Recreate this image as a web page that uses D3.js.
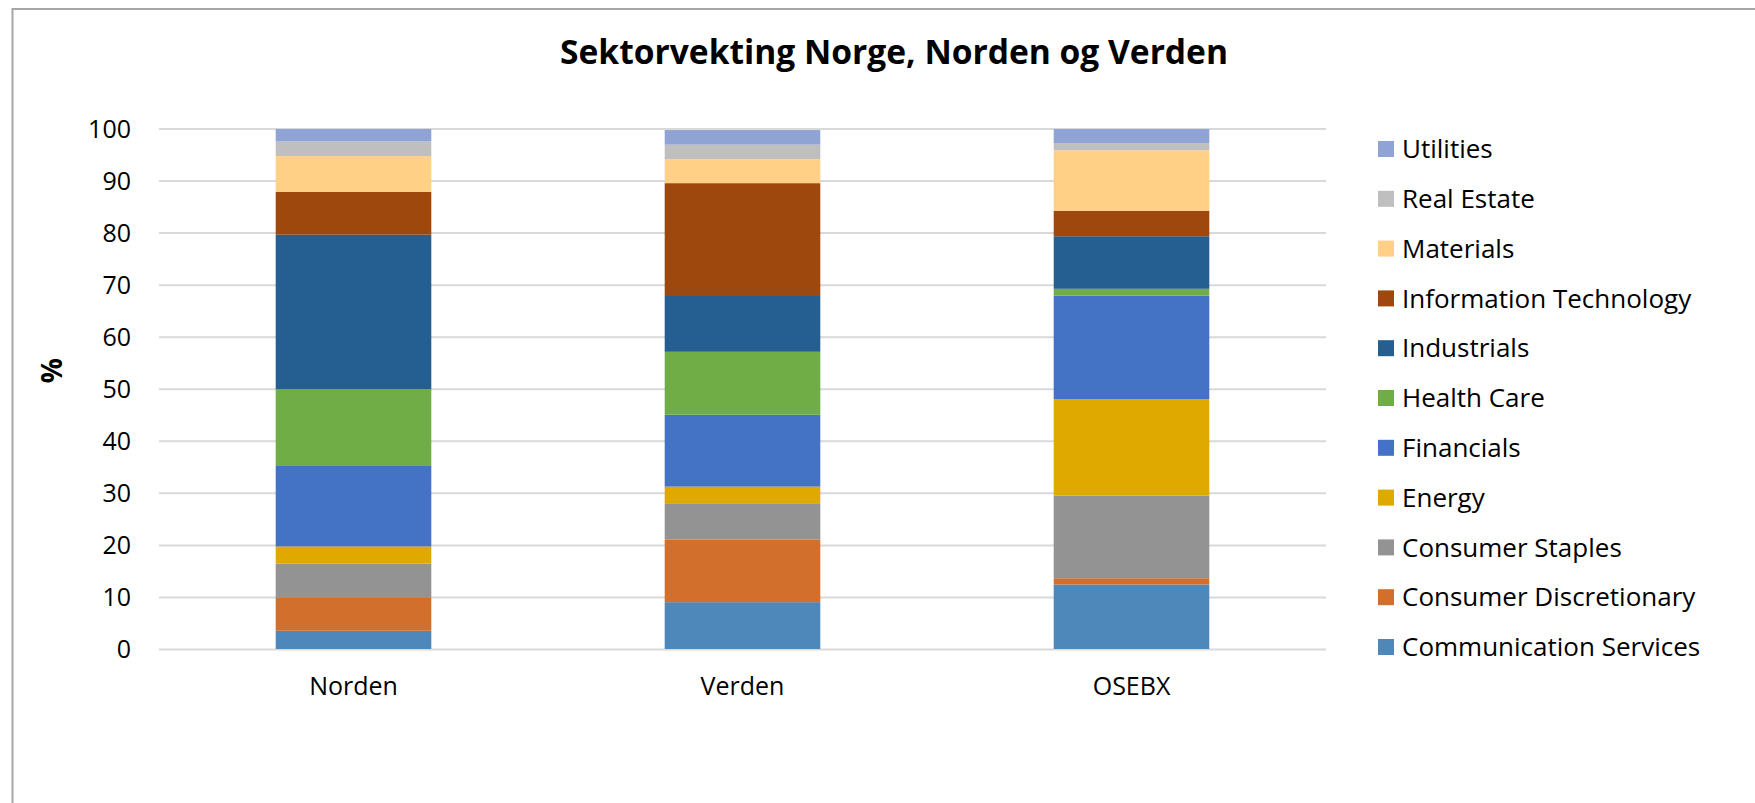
<!DOCTYPE html>
<html>
<head>
<meta charset="utf-8">
<script src="https://cdn.jsdelivr.net/npm/d3@7"></script>
<style>
    body { margin: 0; background: #fff; }
    svg { display: block; font-family: "Open Sans", sans-serif; }
    .chart-title { font-weight: bold; font-size: 34px; fill: #000; }
    .axis text { font-family: "Open Sans", sans-serif; font-size: 25px; fill: #000; }
    .legend text { font-size: 26px; fill: #000; }
</style>
</head>
<body>
<div id="chart"></div>
<script>
// categories and sectors (bottom of stack first)
var categories = ['Norden', 'Verden', 'OSEBX'];
var sectors = ['Communication Services', 'Consumer Discretionary', 'Consumer Staples', 'Energy',
    'Financials', 'Health Care', 'Industrials', 'Information Technology', 'Materials',
    'Real Estate', 'Utilities'];

// weights in %, one value per category
var communicationServices = [3.5, 9.0, 12.4];
var consumerDiscretionary = [6.3, 12.0, 1.2];
var consumerStaples = [6.6, 7.0, 15.9];
var energy = [3.3, 3.2, 18.5];
var financials = [15.6, 13.8, 19.9];
var healthCare = [14.6, 12.1, 1.3];
var industrials = [29.7, 10.9, 10.1];
var informationTechnology = [8.2, 21.5, 4.9];
var materials = [6.9, 4.6, 11.6];
var realEstate = [2.8, 2.8, 1.4];
var utilities = [2.4, 2.8, 2.7];

var yTicks = [0, 10, 20, 30, 40, 50, 60, 70, 80, 90, 100];

var colors = ['#4e88bb', '#d36f2c', '#939393', '#e0a900', '#4472c4', '#70ad47',
    '#255e91', '#9e480e', '#ffd085', '#bfbfbf', '#8fa3d5'];

var seriesValues = [communicationServices, consumerDiscretionary, consumerStaples, energy,
    financials, healthCare, industrials, informationTechnology, materials, realEstate, utilities];

var rows = categories.map(function (c, i) {
    var r = { key: c };
    sectors.forEach(function (s, j) { r[s] = seriesValues[j][i]; });
    return r;
});

var width = 1755,
    height = 803,
    margin = { left: 159, right: 429, top: 128.5, bottom: 154 };
var chartWidth = width - margin.left - margin.right;
var chartHeight = height - margin.top - margin.bottom;

var svg = d3.select('#chart').append('svg')
    .attr('width', width)
    .attr('height', height);

// chart frame
svg.append('rect')
    .attr('x', 12.5).attr('y', 9)
    .attr('width', width + 20).attr('height', height + 20)
    .attr('fill', 'none')
    .attr('stroke', '#a6a6a6')
    .attr('stroke-width', 2);

svg.append('text')
    .attr('class', 'chart-title')
    .attr('x', 894).attr('y', 64)
    .attr('text-anchor', 'middle')
    .attr('textLength', 668)
    .attr('lengthAdjust', 'spacingAndGlyphs')
    .text('Sektorvekting Norge, Norden og Verden');

var xScale = d3.scaleBand().domain(categories).range([0, chartWidth])
    .paddingInner(0.6).paddingOuter(0.3);
var yScale = d3.scaleLinear().domain([0, 100]).range([chartHeight, 0]);
var zScale = d3.scaleOrdinal().domain(sectors).range(colors);

var g = svg.append('g')
    .attr('transform', 'translate(' + margin.left + ',' + margin.top + ')');

// gridlines
var grid = g.append('g').attr('class', 'grid')
    .call(d3.axisLeft(yScale).tickValues(yTicks).tickSize(-chartWidth).tickFormat(''));
grid.select('.domain').remove();
grid.selectAll('line').attr('stroke', '#d9d9d9').attr('stroke-width', 2);

// y axis labels
var yAxis = g.append('g').attr('class', 'axis y')
    .attr('transform', 'translate(-28,0)')
    .call(d3.axisLeft(yScale).tickValues(yTicks).tickSize(0).tickPadding(0));
yAxis.select('.domain').remove();
yAxis.selectAll('text').attr('dy', '0.35em');

// x axis labels
var xAxis = g.append('g').attr('class', 'axis x')
    .attr('transform', 'translate(0,' + chartHeight + ')')
    .call(d3.axisBottom(xScale).tickSize(0).tickPadding(28));
xAxis.select('.domain').remove();

svg.append('text')
    .attr('transform', 'translate(62,' + (margin.top + chartHeight / 2 - 18) + ') rotate(-90)')
    .attr('text-anchor', 'middle')
    .attr('font-weight', 'bold')
    .attr('font-size', 28)
    .text('%');

var seriesData = d3.stack().keys(sectors)
    .order(d3.stackOrderNone).offset(d3.stackOffsetNone)(rows);

var layers = g.append('g').selectAll('g').data(seriesData).enter().append('g')
    .attr('fill', function (d) { return zScale(d.key); });

layers.selectAll('rect')
    .data(function (d) { return d; })
    .enter().append('rect')
    .attr('x', function (d) { return xScale(d.data.key); })
    .attr('width', xScale.bandwidth())
    .attr('y', function (d) { return yScale(d[1]); })
    .attr('height', function (d) { return yScale(d[0]) - yScale(d[1]); });

// legend, top entry = last series
var legendY = d3.scalePoint().domain(sectors.slice().reverse()).range([149, 647]);
var legend = svg.append('g').attr('class', 'legend')
    .selectAll('g').data(sectors.slice().reverse()).enter().append('g')
    .attr('transform', function (d) { return 'translate(1378,' + legendY(d) + ')'; });

legend.append('rect')
    .attr('x', 0).attr('y', -8)
    .attr('width', 16).attr('height', 16)
    .attr('fill', function (d) { return zScale(d); });

legend.append('text')
    .attr('x', 24).attr('dy', '0.35em')
    .text(function (d) { return d; });
</script>
</body>
</html>
